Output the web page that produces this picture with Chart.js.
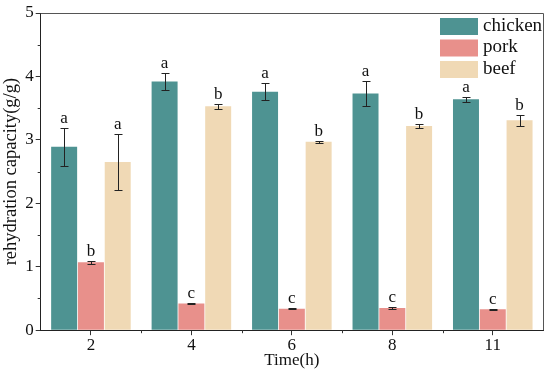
<!DOCTYPE html>
<html>
<head>
<meta charset="utf-8">
<script src="https://cdn.jsdelivr.net/npm/chart.js@4"></script>
<style>
  html, body { margin: 0; padding: 0; background: #fff; }
  #wrap { width: 550px; height: 373px; }
</style>
</head>
<body>
<div id="wrap"><canvas id="rehydrationChart"></canvas></div>
<script>
var timeLabels = ['2', '4', '6', '8', '11'];

var chickenValues = [2.89, 3.92, 3.76, 3.73, 3.64];
var chickenErrors = [0.30, 0.14, 0.13, 0.20, 0.04];
var chickenLetters = ['a', 'a', 'a', 'a', 'a'];

var porkValues = [1.07, 0.42, 0.34, 0.35, 0.33];
var porkErrors = [0.02, 0.01, 0.01, 0.01, 0.005];
var porkLetters = ['b', 'c', 'c', 'c', 'c'];

var beefValues = [2.65, 3.53, 2.97, 3.22, 3.31];
var beefErrors = [0.44, 0.04, 0.02, 0.03, 0.09];
var beefLetters = ['a', 'b', 'b', 'b', 'b'];

var serif = '"Liberation Serif", "Times New Roman", serif';

var errorList = [chickenErrors, porkErrors, beefErrors];
var letterList = [chickenLetters, porkLetters, beefLetters];

// error bars, significance letters, frame, minor ticks, legend
var extrasPlugin = {
    id: 'extras',
    afterDatasetsDraw: function(chart) {
        var ctx = chart.ctx;
        var y = chart.scales.y;
        var x = chart.scales.x;
        var area = chart.chartArea;
        ctx.save();

        chart.data.datasets.forEach(function(ds, i) {
            var meta = chart.getDatasetMeta(i);
            meta.data.forEach(function(bar, j) {
                var v = ds.data[j];
                var e = errorList[i][j];
                var bx = Math.round(bar.x) + 0.5;
                var top = Math.round(y.getPixelForValue(v + e)) + 0.5;
                var bot = Math.round(y.getPixelForValue(v - e)) + 0.5;
                ctx.strokeStyle = '#222';
                ctx.lineWidth = 1;
                ctx.beginPath();
                ctx.moveTo(bx, top);
                ctx.lineTo(bx, bot);
                ctx.moveTo(bx - 4, top);
                ctx.lineTo(bx + 4, top);
                ctx.moveTo(bx - 4, bot);
                ctx.lineTo(bx + 4, bot);
                ctx.stroke();

                ctx.fillStyle = '#111';
                ctx.font = '17px ' + serif;
                ctx.textAlign = 'center';
                ctx.textBaseline = 'bottom';
                ctx.fillText(letterList[i][j], bar.x, top - 1);
            });
        });

        // frame on top and right
        ctx.strokeStyle = '#555';
        ctx.lineWidth = 1;
        ctx.beginPath();
        ctx.moveTo(area.left, area.top + 0.5);
        ctx.lineTo(area.right + 0.5, area.top + 0.5);
        ctx.lineTo(area.right + 0.5, area.bottom);
        ctx.stroke();

        // minor ticks between categories and at half units
        ctx.strokeStyle = '#333';
        ctx.beginPath();
        for (var k = 1; k < timeLabels.length; k++) {
            var px = Math.round((x.getPixelForValue(k - 1) + x.getPixelForValue(k)) / 2) + 0.5;
            ctx.moveTo(px, area.bottom);
            ctx.lineTo(px, area.bottom + 3);
        }
        for (var m = 0.5; m < 5; m += 1) {
            var py = Math.round(y.getPixelForValue(m)) + 0.5;
            ctx.moveTo(area.left, py);
            ctx.lineTo(area.left - 3, py);
        }
        ctx.stroke();

        // legend in the upper right corner
        var boxX = area.right - 103;
        var boxY = area.top + 5;
        chart.data.datasets.forEach(function(ds, i) {
            ctx.fillStyle = ds.backgroundColor;
            ctx.fillRect(boxX, boxY + i * 21.5, 38, 17);
            ctx.fillStyle = '#111';
            ctx.font = '19px ' + serif;
            ctx.textAlign = 'left';
            ctx.textBaseline = 'middle';
            ctx.fillText(ds.label, boxX + 43, boxY + i * 21.5 + 8);
        });

        ctx.restore();
    }
};

var ctx = document.querySelector('#rehydrationChart').getContext('2d');

var rehydrationChart = new Chart(ctx, {
    type: 'bar',
    data: {
        labels: timeLabels,
        datasets: [
            {
                label: 'chicken',
                data: chickenValues,
                backgroundColor: '#4E9392'
            },
            {
                label: 'pork',
                data: porkValues,
                backgroundColor: '#E8908B'
            },
            {
                label: 'beef',
                data: beefValues,
                backgroundColor: '#F0D9B5'
            }
        ]
    },
    options: {
        responsive: true,
        maintainAspectRatio: false,
        animation: false,
        layout: {
            padding: { top: 13, right: 7, left: 0, bottom: 2 }
        },
        datasets: {
            bar: {
                categoryPercentage: 0.8,
                barPercentage: 0.97
            }
        },
        plugins: {
            legend: { display: false },
            tooltip: { enabled: false }
        },
        scales: {
            x: {
                grid: {
                    offset: false,
                    drawOnChartArea: false,
                    color: '#333',
                    tickLength: 5
                },
                border: { color: '#222', width: 1 },
                ticks: {
                    color: '#111',
                    font: { family: serif, size: 17 },
                    padding: 0
                },
                title: {
                    display: true,
                    text: 'Time(h)',
                    color: '#111',
                    font: { family: serif, size: 17 },
                    padding: { top: -5, bottom: 0 }
                }
            },
            y: {
                min: 0,
                max: 5,
                grid: {
                    drawOnChartArea: false,
                    color: '#333',
                    tickLength: 5
                },
                border: { color: '#222', width: 1 },
                ticks: {
                    stepSize: 1,
                    color: '#111',
                    font: { family: serif, size: 17 },
                    padding: 2
                },
                title: {
                    display: true,
                    text: 'rehydration capacity(g/g)',
                    color: '#111',
                    font: { family: serif, size: 18.5 },
                    padding: { top: 0, bottom: 1 }
                }
            }
        }
    },
    plugins: [extrasPlugin]
});
</script>
</body>
</html>
